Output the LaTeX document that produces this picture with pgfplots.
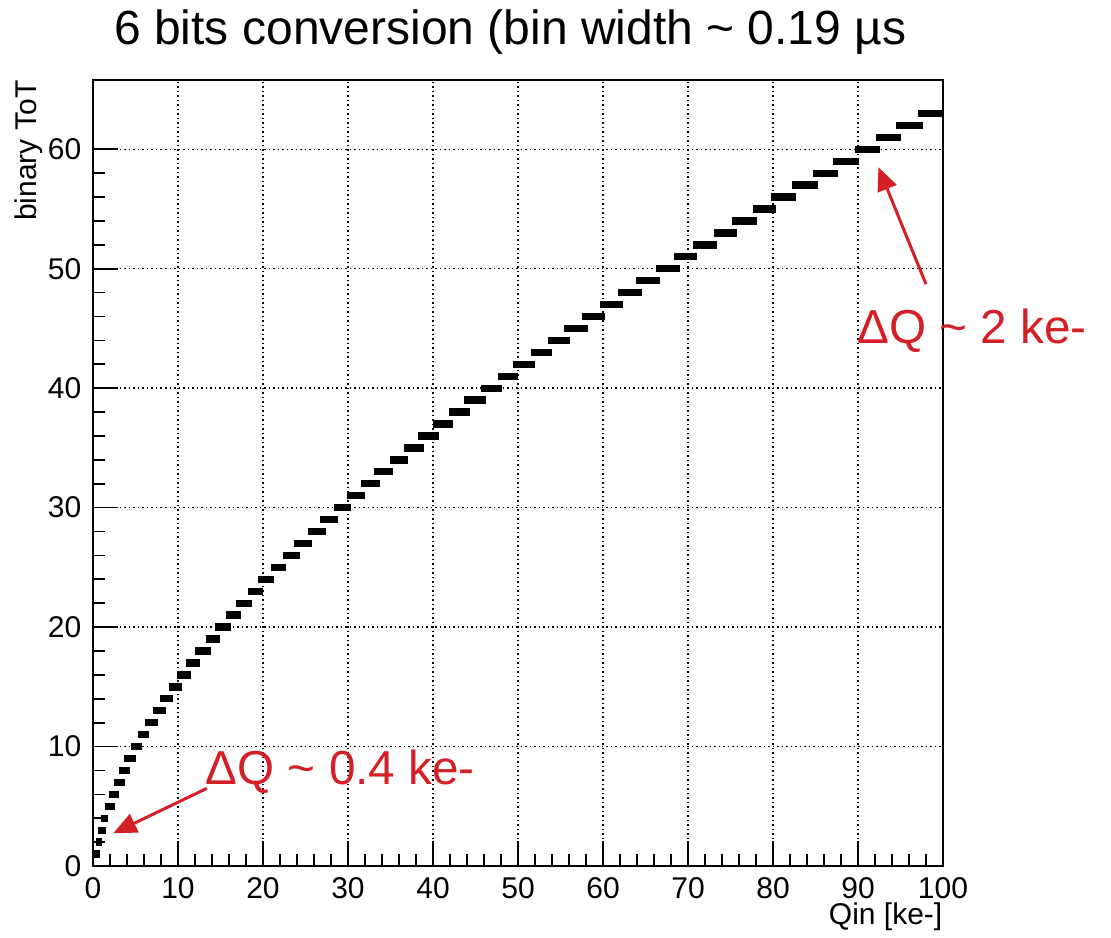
\documentclass[border=0pt]{standalone}
\usepackage{fontspec}
\setmainfont{Liberation Sans}
\usepackage{pgfplots}
\pgfplotsset{compat=1.18}
\usepackage{pgfplotstable}
\usetikzlibrary{arrows.meta}
\definecolor{annred}{RGB}{211,31,38}

% one row per ToT code: charge range covered by the step
\pgfplotstableread{
k   lo     hi
1   0.04   0.82
2   0.31   1.10
3   0.55   1.53
4   0.94   1.80
5   1.41   2.59
6   1.92   3.10
7   2.43   3.80
8   3.10   4.35
9   3.70   5.06
10  4.50   5.76
11  5.25   6.60
12  6.15   7.70
13  7.00   8.60
14  7.90   9.45
15  8.98   10.50
16  9.90   11.50
17  10.90  12.60
18  12.00  13.90
19  13.25  14.90
20  14.30  16.20
21  15.70  17.45
22  16.80  18.70
23  18.20  20.00
24  19.45  21.30
25  20.90  22.75
26  22.30  24.35
27  23.70  25.80
28  25.30  27.40
29  26.70  28.80
30  28.30  30.40
31  29.90  32.00
32  31.50  33.80
33  33.10  35.30
34  34.90  37.10
35  36.60  38.90
36  38.20  40.70
37  40.00  42.40
38  41.90  44.40
39  43.70  46.20
40  45.60  48.10
41  47.60  50.00
42  49.40  52.00
43  51.50  54.00
44  53.50  56.10
45  55.40  58.20
46  57.50  60.20
47  59.70  62.30
48  61.80  64.60
49  63.90  66.70
50  66.20  69.00
51  68.40  71.10
52  70.60  73.40
53  73.00  75.80
54  75.20  78.10
55  77.60  80.40
56  79.80  82.70
57  82.20  85.30
58  84.70  87.60
59  87.10  90.10
60  89.60  92.60
61  92.10  95.10
62  94.50  97.60
63  97.10  100.00
}\steps

\begin{document}
\begin{tikzpicture}
\begin{axis}[
    name=ax,
    scale only axis,
    width=255pt, height=235.8pt,
    xmin=0, xmax=100, ymin=0, ymax=65.8,
    xtick={0,10,...,100}, ytick={0,10,...,60},
    minor x tick num=4, minor y tick num=4,
    tick align=inside, tick pos=left,
    major tick length=7.5pt, minor tick length=3.6pt,
    every tick/.style={black, line width=0.5pt},
    grid=major,
    grid style={black, line width=0.45pt, dash pattern=on 0.45pt off 0.9pt},
    axis line style={line width=0.6pt},
    /pgf/number format/assume math mode=true,
    ticklabel style={font=\fontsize{9}{10}\selectfont},
    xlabel={Qin [ke-]},
    xlabel style={font=\fontsize{9}{10}\selectfont, at={(axis description cs:1,-0.046)}, anchor=north east, inner sep=0pt},
    ylabel={binary ToT},
    ylabel style={font=\fontsize{9}{10}\selectfont, at={(axis description cs:-0.076,1)}, anchor=east, inner sep=0pt},
    clip=false,
]
% each step drawn as a thick horizontal bar from lo to hi
\addplot[draw=none, mark=none,
    error bars/.cd, x dir=plus, x explicit, error mark=none,
    error bar style={draw=black, line width=2.2pt}]
    table[x=lo, y=k, x error expr=\thisrow{hi}-\thisrow{lo}] {\steps};

% title
\node[anchor=base, inner sep=0pt, font=\fontsize{14.4}{17}\selectfont]
    at (rel axis cs:0.491,1.045) {6 bits conversion (bin width \textasciitilde{} 0.19 µs};

\draw[annred, line width=0.9pt, -{Triangle[length=7pt,width=6pt]}]
    (axis cs:13.4,6.5) -- (axis cs:2.39,2.74);
\node[annred, anchor=base west, inner sep=0pt, font=\fontsize{14.3}{16}\selectfont]
    at (axis cs:13.2,6.8) {ΔQ \textasciitilde{} 0.4 ke-};
\draw[annred, line width=0.9pt, -{Triangle[length=7pt,width=6pt]}]
    (axis cs:98.0,48.7) -- (axis cs:92.4,58.5);
\node[annred, anchor=base west, inner sep=0pt, font=\fontsize{14.3}{16}\selectfont]
    at (axis cs:89.85,43.75) {ΔQ \textasciitilde{} 2 ke-};
\end{axis}
\pgfresetboundingbox
\path (ax.south west) ++(-27.9pt,-21.3pt) rectangle ++(333.3pt,281.1pt);
\end{tikzpicture}
\end{document}
